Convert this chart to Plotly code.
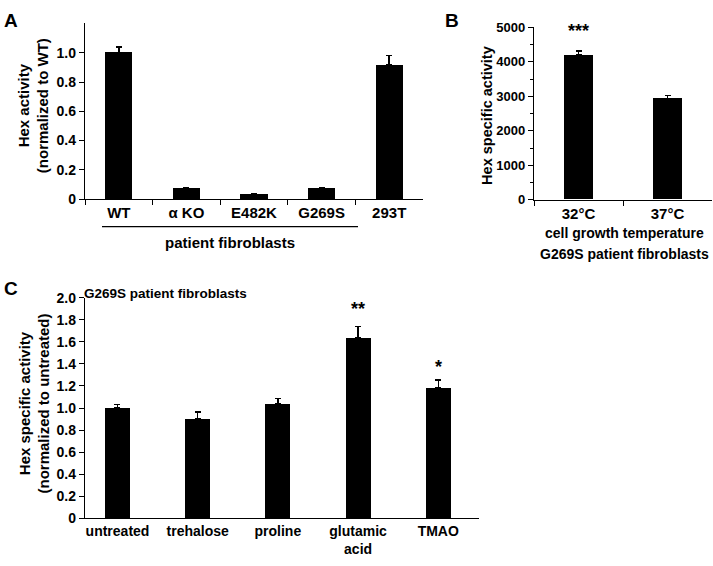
import plotly.graph_objects as go

# Panel A
a_cats = ["WT", "α KO", "E482K", "G269S", "293T"]
a_vals = [1.0, 0.073, 0.03, 0.075, 0.915]
a_errs = [0.038, 0.008, 0.004, 0.004, 0.067]
a_ticks = [0, 0.2, 0.4, 0.6, 0.8, 1.0]
a_ticktext = ["0", "0.2", "0.4", "0.6", "0.8", "1.0"]

# Panel B
b_cats = ["32°C", "37°C"]
b_vals = [4196, 2937]
b_errs = [114, 86]
b_ticks = [0, 1000, 2000, 3000, 4000, 5000]
b_stars = ["***", ""]
b_star_y = [4900, 0]

# Panel C
c_cats = ["untreated", "trehalose", "proline", "glutamic<br>acid", "TMAO"]
c_vals = [1.0, 0.898, 1.04, 1.64, 1.187]
c_errs = [0.033, 0.068, 0.045, 0.10, 0.069]
c_ticks = [0, 0.2, 0.4, 0.6, 0.8, 1.0, 1.2, 1.4, 1.6, 1.8, 2.0]
c_ticktext = ["0", "0.2", "0.4", "0.6", "0.8", "1.0", "1.2", "1.4", "1.6", "1.8", "2.0"]
c_stars = ["", "", "", "**", "*"]
c_star_y = [0, 0, 0, 1.90, 1.375]

W, H = 713, 566
FONT = "Arial, Liberation Sans, sans-serif"

def px(x):
    return x / W

def py(y):
    return (H - y) / H

fig = go.Figure()

def err(e):
    return dict(type="data", array=e, arrayminus=[0] * len(e), symmetric=False,
                color="black", thickness=1.5, width=3)

fig.add_trace(go.Bar(x=a_cats, y=a_vals, width=0.4, marker=dict(color="black", line=dict(width=0)),
                     error_y=err(a_errs), xaxis="x", yaxis="y"))
fig.add_trace(go.Bar(x=b_cats, y=b_vals, width=0.33, marker=dict(color="black", line=dict(width=0)),
                     error_y=err(b_errs), xaxis="x2", yaxis="y2"))
fig.add_trace(go.Bar(x=list(range(len(c_cats))), y=c_vals, width=0.31,
                     marker=dict(color="black", line=dict(width=0)),
                     error_y=err(c_errs), xaxis="x3", yaxis="y3"))

axline = dict(showline=True, linecolor="black", linewidth=1.3, showgrid=False, zeroline=False)
tickfont = dict(family=FONT, size=14, color="black", weight="bold")
catfont = dict(family=FONT, size=15, color="black", weight="bold")

fig.update_layout(
    width=W, height=H,
    margin=dict(l=0, r=0, t=0, b=0),
    paper_bgcolor="white", plot_bgcolor="white",
    showlegend=False, bargap=0,
    xaxis=dict(domain=[px(85), px(423)], range=[-0.5, 4.5], type="category",
               ticks="outside", ticklen=5, tickwidth=1.3, tickcolor="black", tickson="boundaries",
               tickfont=catfont, anchor="y", **axline),
    yaxis=dict(domain=[py(196.7), py(15.9)], range=[0, 1.2], tickvals=a_ticks, ticktext=a_ticktext,
               ticks="outside", ticklen=5, tickwidth=1.3, tickcolor="black",
               tickfont=tickfont, anchor="x", **axline),
    xaxis2=dict(domain=[px(534), px(712)], range=[-0.5, 1.5], type="category",
                ticks="outside", ticklen=5, tickwidth=1.3, tickcolor="black", tickson="boundaries",
                tickfont=catfont, anchor="y2", **axline),
    yaxis2=dict(domain=[py(197.3), py(20)], range=[0, 5000], tickvals=b_ticks,
                ticks="outside", ticklen=5, tickwidth=1.3, tickcolor="black",
                minor=dict(dtick=500, ticks="outside", ticklen=3, tickcolor="black", tickwidth=1.2),
                tickfont=dict(family=FONT, size=13, color="black", weight="bold"),
                anchor="x2", **axline),
    xaxis3=dict(domain=[px(85), px(479)], range=[-0.405, 4.508],
                tickvals=list(range(len(c_cats))), ticktext=c_cats, ticks="",
                tickfont=dict(family=FONT, size=14, color="black", weight="bold"),
                anchor="y3", **axline),
    yaxis3=dict(domain=[py(525), py(298.3)], range=[0, 2.0], tickvals=c_ticks, ticktext=c_ticktext,
                ticks="outside", ticklen=5, tickwidth=1.3, tickcolor="black",
                tickfont=tickfont, anchor="x3", **axline),
)

ann = []
def txt(x, y, s, size=15, angle=0, xanchor="center"):
    ann.append(dict(x=px(x), y=py(y), xref="paper", yref="paper", text=s, showarrow=False,
                    textangle=angle, xanchor=xanchor, yanchor="middle",
                    font=dict(family=FONT, size=size, color="black", weight="bold")))

# panel letters
txt(11, 13, "A", size=19)
txt(452, 13, "B", size=19)
txt(11, 289, "C", size=19)

# y titles
txt(33, 101, "Hex activity<br>(normalized to WT)", size=15, angle=-90)
txt(487, 110, "Hex specific activity", size=14.5, angle=-90)
txt(34, 407, "Hex specific activity<br>(normalized to untreated)", size=15, angle=-90)

# captions
txt(230, 241, "patient fibroblasts", size=15)
txt(624, 232, "cell growth temperature", size=14)
txt(624, 253, "G269S patient fibroblasts", size=14)
txt(165, 294, "G269S patient fibroblasts", size=13.5)

# significance stars (data coords)
for c, s, yv in zip(b_cats, b_stars, b_star_y):
    if s:
        ann.append(dict(x=c, y=yv, xref="x2", yref="y2", text=s, showarrow=False, yanchor="middle",
                        font=dict(family=FONT, size=18, color="black", weight="bold")))
for i, (s, yv) in enumerate(zip(c_stars, c_star_y)):
    if s:
        ann.append(dict(x=i, y=yv, xref="x3", yref="y3", text=s, showarrow=False, yanchor="middle",
                        font=dict(family=FONT, size=18, color="black", weight="bold")))

fig.update_layout(annotations=ann)

# bracket line under patient fibroblast categories
fig.add_shape(type="line", xref="paper", yref="paper", x0=px(102), x1=px(358), y0=py(225), y1=py(225),
              line=dict(color="black", width=1.3))

fig.write_html("out.html", config={"displayModeBar": False},
               post_script="document.body.style.margin='0';document.body.style.padding='0';")
